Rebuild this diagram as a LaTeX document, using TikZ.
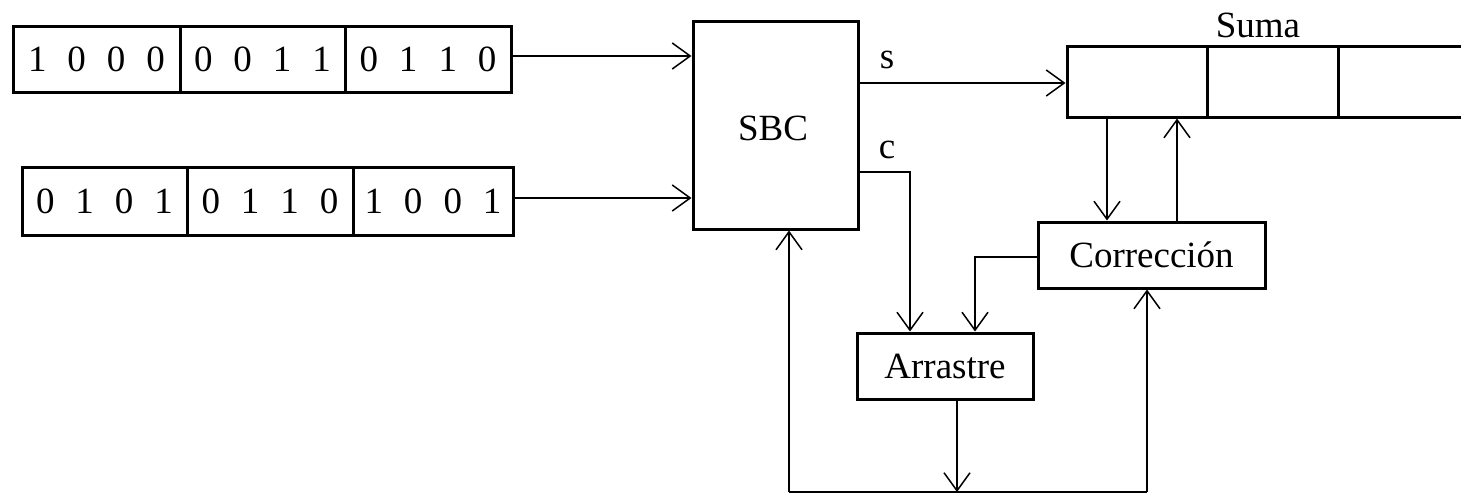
\documentclass[tikz,border=0pt]{standalone}
\usepackage{fontspec}
\setmainfont{Liberation Serif}
\usetikzlibrary{arrows.meta}
\begin{document}
\begin{tikzpicture}[x=1pt,y=-1pt,
  box/.style={draw,line width=3pt,inner sep=0pt,font=\fontsize{37}{40}\selectfont},
  lbl/.style={inner sep=0pt,font=\fontsize{37}{40}\selectfont},
  conn/.style={line width=1.5pt},
  arr/.style={conn,-{Straight Barb[length=18pt,width=26pt,line width=1.5pt]}}]
\useasboundingbox (0,0) rectangle (1461,495);
\newcommand{\dg}[4]{#1\hspace{21pt}#2\hspace{21pt}#3\hspace{21pt}#4}
% top register
\node[box,minimum width=167pt,minimum height=65pt] (a1) at (96.5,59.5) {\dg1000};
\node[box,minimum width=165pt,minimum height=65pt] (a2) at (262.5,59.5) {\dg0011};
\node[box,minimum width=166pt,minimum height=65pt] (a3) at (428,59.5) {\dg0110};
% bottom register
\node[box,minimum width=165pt,minimum height=68pt] (b1) at (104.5,201) {\dg0101};
\node[box,minimum width=166pt,minimum height=68pt] (b2) at (270,201) {\dg0110};
\node[box,minimum width=160pt,minimum height=68pt] (b3) at (433,201) {\dg1001};
% SBC
\node[box,minimum width=165pt,minimum height=207pt] (sbc) at (775.5,125.5) {};
\node[lbl] (sbct) at (773,128) {SBC};
% Suma
\node[box,minimum width=140pt,minimum height=70pt] (s1) at (1137,82) {};
\node[box,minimum width=131pt,minimum height=70pt] (s2) at (1272.5,82) {};
\node[box,minimum width=140pt,minimum height=70pt] (s3) at (1408,82) {};
\node[lbl] (suma) at (1258,25) {Suma};
% Correccion, Arrastre
\node[box,minimum width=227pt,minimum height=66pt] (corr) at (1151.5,255) {Corrección};
\node[box,minimum width=176pt,minimum height=66pt] (arrs) at (945,366) {Arrastre};
% labels
\node[lbl] (ls) at (887,60) {s};
\node[lbl] (lc) at (887,150) {c};
% coordinates
\coordinate (ya) at (0,56);
\coordinate (yb) at (0,198);
\coordinate (ys) at (0,83);
\coordinate (yc) at (0,172);
\coordinate (xc) at (910,0);
\coordinate (xd) at (1107,0);
\coordinate (xu) at (1177,0);
\coordinate (xk) at (975,0);
\coordinate (xm) at (957,0);
\coordinate (bl) at (789,492);
\coordinate (br) at (1147,492);
\coordinate (bm) at (957,492);
% connectors
\draw[arr] (a3.east |- ya) -- (sbc.west |- ya);
\draw[arr] (b3.east |- yb) -- (sbc.west |- yb);
\draw[arr] (sbc.east |- ys) -- (s1.west |- ys);
\draw[arr] (sbc.east |- yc) -| (arrs.north -| xc);
\draw[arr] (s1.south -| xd) -- (corr.north -| xd);
\draw[arr] (corr.north -| xu) -- (s1.south -| xu);
\draw[arr] (corr.west |- 0,257) -| (arrs.north -| xk);
\draw[arr] (arrs.south -| xm) -- (bm);
\draw[conn] (bl) -- (br);
\draw[arr] (bl) -- (sbc.south -| bl);
\draw[arr] (br) -- (corr.south -| br);
\end{tikzpicture}
\end{document}
